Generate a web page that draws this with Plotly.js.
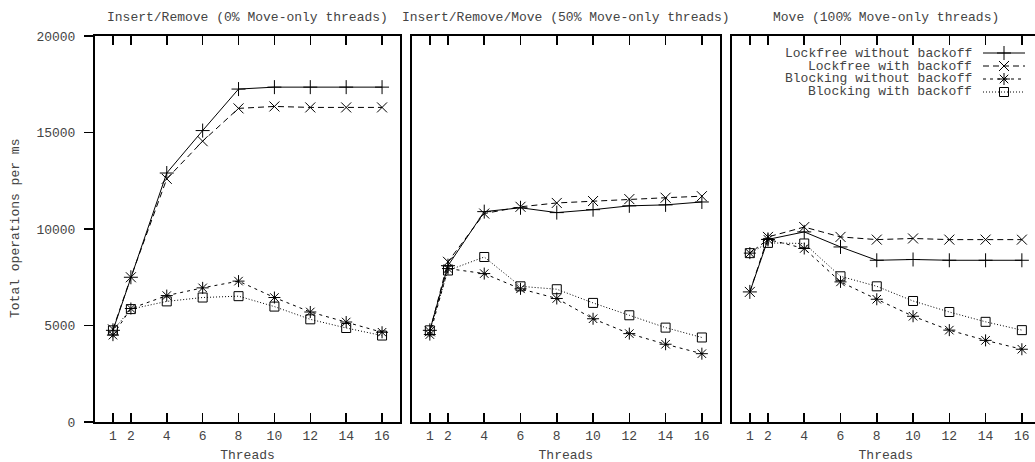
<!DOCTYPE html>
<html>
<head>
<meta charset="utf-8">
<script src="https://cdn.plot.ly/plotly-3.0.1.min.js"></script>
<style>
html,body{margin:0;padding:0;overflow:hidden;background:#fff;}
#chart{width:1045px;height:470px;}
</style>
</head>
<body>
<div id="chart"></div>
<script>
// ---- data ----
const threads = [1, 2, 4, 6, 8, 10, 12, 14, 16];
const tickLabels = ['1', '2', '4', '6', '8', '10', '12', '14', '16'];
const yTickVals = [0, 5000, 10000, 15000, 20000];
const yTickLabels = ['0', '5000', '10000', '15000', '20000'];
const panelTitles = ['Insert/Remove (0% Move-only threads)', 'Insert/Remove/Move (50% Move-only threads)', 'Move (100% Move-only threads)'];
const seriesNames = ['Lockfree without backoff', 'Lockfree with backoff', 'Blocking without backoff', 'Blocking with backoff'];

const p1LockfreeNoBackoff = [4750, 7500, 12900, 15100, 17250, 17350, 17350, 17350, 17350];
const p1LockfreeBackoff   = [4800, 7500, 12600, 14550, 16250, 16350, 16300, 16300, 16300];
const p1BlockingNoBackoff = [4500, 5880, 6550, 6950, 7300, 6450, 5700, 5180, 4650];
const p1BlockingBackoff   = [4750, 5850, 6250, 6450, 6520, 5980, 5320, 4870, 4480];

const p2LockfreeNoBackoff = [4750, 8100, 10900, 11100, 10850, 11000, 11200, 11250, 11400];
const p2LockfreeBackoff   = [4700, 8300, 10800, 11150, 11350, 11450, 11550, 11620, 11700];
const p2BlockingNoBackoff = [4530, 7950, 7690, 6900, 6400, 5350, 4580, 4030, 3540];
const p2BlockingBackoff   = [4750, 7850, 8550, 7030, 6880, 6170, 5530, 4890, 4380];

const p3LockfreeNoBackoff = [6740, 9460, 9850, 9070, 8380, 8420, 8380, 8380, 8380];
const p3LockfreeBackoff   = [6740, 9590, 10100, 9590, 9450, 9510, 9450, 9450, 9450];
const p3BlockingNoBackoff = [8750, 9460, 8990, 7260, 6360, 5480, 4760, 4230, 3770];
const p3BlockingBackoff   = [8750, 9280, 9250, 7550, 7030, 6270, 5700, 5190, 4760];

const panels = [
  [p1LockfreeNoBackoff, p1LockfreeBackoff, p1BlockingNoBackoff, p1BlockingBackoff],
  [p2LockfreeNoBackoff, p2LockfreeBackoff, p2BlockingNoBackoff, p2BlockingBackoff],
  [p3LockfreeNoBackoff, p3LockfreeBackoff, p3BlockingNoBackoff, p3BlockingBackoff]
];

// ---- styles ----
const FONT = '"Liberation Mono", "Courier New", "DejaVu Sans Mono", monospace';
const TXT = '#444';
const styles = [
  {dash: 'solid', symbol: 'cross-thin-open', size: 10},
  {dash: '6px,4px', symbol: 'x-thin-open', size: 10},
  {dash: '3px,4px', symbol: 'asterisk-open', size: 10},
  {dash: '1px,2px', symbol: 'square-open', size: 9}
];

const W = 1045, H = 470;
const mL = 95, mR = 5, mT = 36, mB = 48;
const plotW = W - mL - mR, plotH = H - mT - mB;
const px2x = p => (p - mL) / plotW;
const px2y = p => (H - mB - p) / plotH;

const domains = [[0, px2x(400)], [px2x(411.7), px2x(720)], [px2x(731.7), 1]];

const traces = [];
panels.forEach((series, pi) => {
  const ax = pi === 0 ? '' : String(pi + 1);
  series.forEach((vals, si) => {
    const st = styles[si];
    traces.push({
      type: 'scatter', mode: 'lines+markers',
      x: threads, y: vals, name: seriesNames[si],
      xaxis: 'x' + ax, yaxis: 'y' + ax, showlegend: false,
      line: {color: '#000', width: 1, dash: st.dash},
      marker: {symbol: st.symbol, size: st.size, color: '#000', line: {color: '#000', width: 1}}
    });
  });
});

// legend samples on a hidden full-area axis pair measured in pixels
const legRows = [53, 66, 79, 92];
seriesNames.forEach((nm, si) => {
  const st = styles[si];
  traces.push({
    type: 'scatter', mode: 'lines', x: [983, 1025], y: [legRows[si], legRows[si]],
    xaxis: 'x4', yaxis: 'y4', showlegend: false, hoverinfo: 'skip', cliponaxis: false,
    line: {color: '#000', width: 1, dash: st.dash}
  });
  traces.push({
    type: 'scatter', mode: 'markers', x: [1004], y: [legRows[si]],
    xaxis: 'x4', yaxis: 'y4', showlegend: false, hoverinfo: 'skip', cliponaxis: false,
    marker: {symbol: st.symbol, size: st.size, color: '#000', line: {color: '#000', width: 1}}
  });
});

function xAxis(i) {
  return {
    domain: domains[i], range: [0, 17], anchor: i === 0 ? 'y' : 'y' + (i + 1),
    tickvals: threads, ticktext: tickLabels, ticks: 'inside', ticklen: 9, tickwidth: 1.5, tickcolor: '#000',
    showline: true, linecolor: '#000', linewidth: 2, mirror: 'ticks', showgrid: false, zeroline: false,
    tickfont: {family: FONT, size: 13, color: TXT},
    title: {text: 'Threads', font: {family: FONT, size: 13, color: TXT}, standoff: 7}
  };
}
function yAxis(i) {
  const a = {
    domain: [0, 1], range: [0, 20000], anchor: i === 0 ? 'x' : 'x' + (i + 1),
    showline: true, linecolor: '#000', linewidth: 2, mirror: true, showgrid: false, zeroline: false,
    tickfont: {family: FONT, size: 13, color: TXT}
  };
  if (i === 0) {
    a.tickvals = yTickVals; a.ticktext = yTickLabels;
    a.ticks = 'outside'; a.ticklen = 9; a.tickwidth = 1.5; a.tickcolor = '#000';
    a.ticklabelstandoff = 6;
  } else {
    a.showticklabels = false; a.ticks = '';
  }
  return a;
}

const annotations = [];
const centers = [247.5, 566, 886];
panelTitles.forEach((t, i) => annotations.push({
  text: t, xref: 'paper', yref: 'paper', x: px2x(centers[i]), y: px2y(17),
  xanchor: 'center', yanchor: 'middle', showarrow: false,
  font: {family: FONT, size: 13, color: TXT}
}));
annotations.push({
  text: 'Total operations per ms', xref: 'paper', yref: 'paper', x: px2x(15), y: px2y(229),
  xanchor: 'center', yanchor: 'middle', textangle: -90, showarrow: false,
  font: {family: FONT, size: 13, color: TXT}
});
seriesNames.forEach((nm, si) => annotations.push({
  text: nm, xref: 'paper', yref: 'paper', x: px2x(974), y: px2y(legRows[si]),
  xanchor: 'right', yanchor: 'middle', showarrow: false,
  font: {family: FONT, size: 13, color: TXT}
}));

const layout = {
  width: W, height: H,
  margin: {l: mL, r: mR, t: mT, b: mB, pad: 0},
  paper_bgcolor: '#fff', plot_bgcolor: 'rgba(0,0,0,0)',
  showlegend: false,
  xaxis: xAxis(0), xaxis2: xAxis(1), xaxis3: xAxis(2),
  yaxis: yAxis(0), yaxis2: yAxis(1), yaxis3: yAxis(2),
  xaxis4: {domain: [0, 1], range: [mL, W - mR], visible: false, anchor: 'y4', fixedrange: true},
  yaxis4: {domain: [0, 1], range: [H - mB, mT], visible: false, anchor: 'x4', fixedrange: true},
  annotations: annotations
};

Plotly.newPlot('chart', traces, layout, {staticPlot: true, displayModeBar: false});
</script>
</body>
</html>
